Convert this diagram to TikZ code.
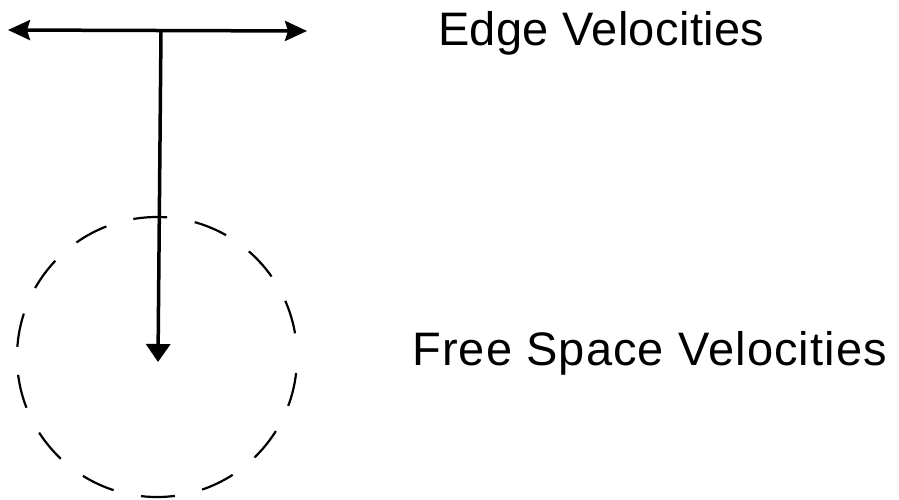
\documentclass[tikz,border=0pt]{standalone}
\usepackage{fontspec}
\setmainfont{Liberation Sans}
\usetikzlibrary{arrows.meta}
\begin{document}
\begin{tikzpicture}[x=1pt,y=-1pt,
  vecline/.style={line width=3.5pt},
  label/.style={inner sep=0pt,anchor=base west,font=\fontsize{47}{56}\selectfont},
  fsring/.style={line width=2.2pt,dash pattern=on 34pt off 28pt,dash phase=46pt}]
\useasboundingbox (0,0) rectangle (899,499);
\coordinate (L) at (8,30);
\coordinate (R) at (307,31);
\coordinate (T) at (161,31);
\coordinate (C) at (157,357);
\coordinate (tip) at (158,362);
\draw[vecline,{Stealth[length=22pt,width=20pt,inset=3pt]}-{Stealth[length=22pt,width=20pt,inset=3pt]}] (L) -- (R);
\draw[vecline,-{Triangle[length=18pt,width=24pt]}] (T) -- (tip);
\draw[fsring] (C) circle[radius=140];
\node[label] (edge) at (438,45) {\addfontfeatures{LetterSpace=0.8}Edge Velocities};
\node[label] (free) at (412,365) {\addfontfeatures{LetterSpace=2.4}Free Space Velocities};
\end{tikzpicture}
\end{document}
